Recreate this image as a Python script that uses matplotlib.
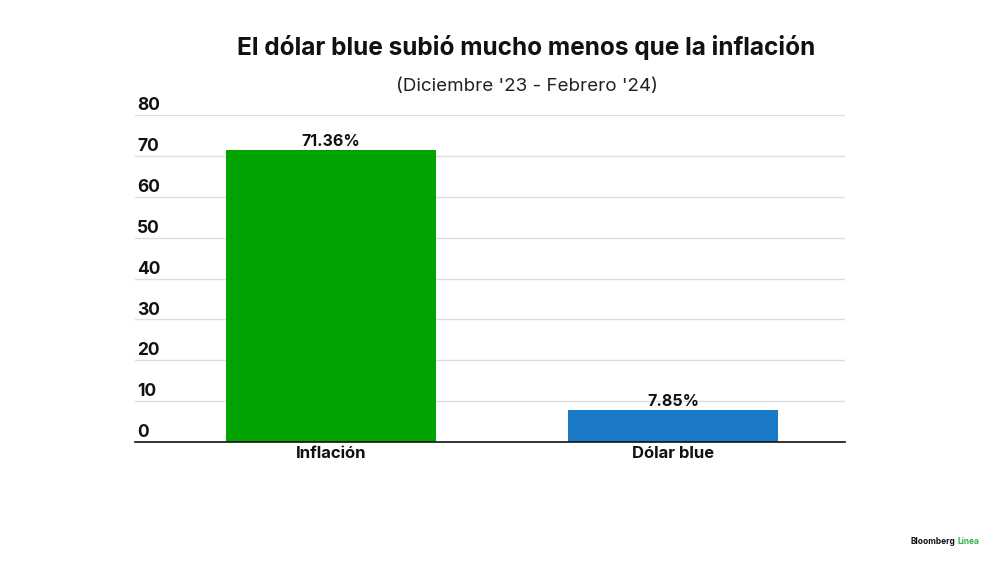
import matplotlib
matplotlib.use("Agg")
import matplotlib.pyplot as plt
from matplotlib.transforms import blended_transform_factory

categories = ["Inflación", "Dólar blue"]
values = [71.36, 7.85]
value_labels = ["71.36%", "7.85%"]
colors = ["#00A300", "#1A7AC8"]
yticks = [0, 10, 20, 30, 40, 50, 60, 70, 80]

plt.rcParams['font.family'] = ['Inter', 'DejaVu Sans']

fig = plt.figure(figsize=(10, 5.62), dpi=100)
ax = fig.add_axes([0.135, 1 - 442/562, 0.71, (442 - 115)/562])

x = list(range(len(categories)))
ax.bar(x, values, width=0.614, color=colors, zorder=2)
ax.set_xlim(-0.573, 1.503)
ax.set_ylim(0, 80)

ax.set_yticks(yticks)
ax.yaxis.grid(True, color="#DDDDDD", linewidth=1, zorder=0)
ax.tick_params(axis='y', length=0, labelleft=False)
ax.set_xticks(x)
ax.set_xticklabels(categories, fontsize=12, fontweight='bold', color="#111111")
ax.tick_params(axis='x', length=0, pad=3)

for s in ['top', 'right', 'left']:
    ax.spines[s].set_visible(False)
ax.spines['bottom'].set_color("#111111")
ax.spines['bottom'].set_linewidth(1.2)
ax.spines['bottom'].set_zorder(3)

trans = blended_transform_factory(ax.transAxes, ax.transData)
for t in yticks:
    ax.text(0.003, t + 0.2, str(t), transform=trans, ha='left', va='bottom',
            fontsize=12.5, fontweight='bold', color="#111111")

for xi, v, lab in zip(x, values, value_labels):
    ax.text(xi, v + 0.2, lab, ha='center', va='bottom', fontsize=11.5,
            fontweight='bold', color="#111111", zorder=4)

fig.text(0.526, 1 - 48/562, "El dólar blue subió mucho menos que la inflación",
         ha='center', va='center', fontsize=17.6, fontweight='bold', color="#111111")
fig.text(0.527, 1 - 86/562, "(Diciembre '23 - Febrero '24)",
         ha='center', va='center', fontsize=13.5, color="#222222")

fig.text(0.955, 1 - 542/562, "Bloomberg", ha='right', va='center', fontsize=6,
         fontweight='bold', color="#111111")
fig.text(0.958, 1 - 542/562, "Línea", ha='left', va='center', fontsize=6,
         fontweight='bold', color="#2DB34A")

fig.savefig("out.png", dpi=100, facecolor="white")
